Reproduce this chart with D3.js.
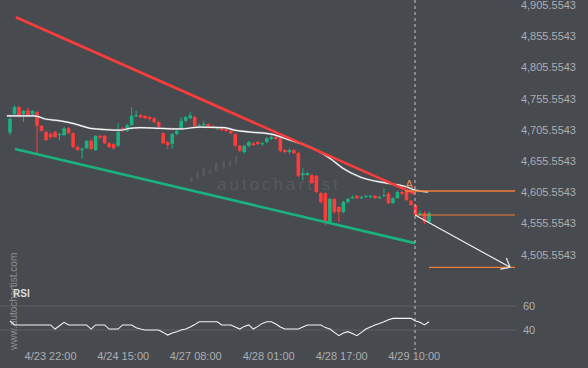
<!DOCTYPE html>
<html><head><meta charset="utf-8">
<script src="https://cdn.jsdelivr.net/npm/d3@7"></script>
<style>html,body{margin:0;padding:0;background:#474a4f;}svg{display:block;}</style>
</head><body>
<svg id="c" width="588" height="368"></svg>
<script>
// ---------- data ----------
const opens = [4699,4729,4740,4729,4735,4729,4732,4710,4700,4697,
4700,4695,4695,4706,4698,4676,4671,4674,4686,4671,
4694,4694,4682,4681,4678,4706,4702,4711,4726,4727,
4726,4724,4722,4716,4698,4684,4681,4697,4705,4718,
4722,4724,4710,4711,4713,4710,4705,4708,4705,4702,
4697,4678,4668,4678,4682,4684,4681,4684,4689,4692,
4690,4671,4668,4671,4666,4631,4631,4631,4630,4602,
4602,4554,4593,4580,4572,4588,4594,4598,4594,4596,
4596,4598,4594,4598,4601,4586,4594,4604,4604,4590,
4583,4567,4570,4556];
const closes = [4721,4740,4724,4734,4726,4734,4710,4702,4687,4692,
4692,4697,4706,4698,4676,4671,4673,4686,4673,4694,
4691,4682,4676,4674,4700,4702,4711,4726,4727,4724,
4722,4721,4716,4708,4682,4679,4697,4702,4718,4724,
4727,4710,4711,4713,4708,4706,4706,4703,4702,4698,
4678,4670,4678,4684,4679,4681,4682,4690,4692,4689,
4670,4668,4671,4666,4630,4634,4634,4618,4604,4588,
4554,4593,4572,4572,4588,4593,4596,4594,4596,4598,
4598,4594,4596,4599,4586,4594,4604,4601,4591,4583,
4567,4570,4556,4570];
const highs = [4723,4743,4742,4735,4739,4735,4734,4711,4702,4699,
4702,4699,4708,4708,4700,4678,4676,4687,4689,4695,
4695,4695,4684,4682,4714,4708,4713,4740,4734,4729,
4727,4726,4724,4718,4700,4686,4698,4706,4724,4726,
4732,4726,4714,4718,4714,4711,4708,4710,4706,4703,
4698,4679,4679,4686,4684,4686,4684,4692,4695,4694,
4692,4673,4674,4673,4668,4642,4636,4633,4631,4604,
4604,4594,4594,4581,4590,4594,4599,4599,4598,4599,
4599,4599,4598,4610,4604,4596,4607,4606,4606,4591,
4585,4575,4573,4573];
const lows = [4695,4727,4723,4716,4724,4727,4665,4700,4686,4689,
4691,4687,4694,4697,4674,4670,4657,4673,4671,4670,
4689,4681,4674,4671,4676,4700,4700,4710,4724,4722,
4721,4718,4714,4706,4681,4673,4673,4695,4703,4716,
4721,4708,4708,4710,4706,4705,4703,4702,4700,4697,
4676,4668,4665,4676,4678,4679,4678,4682,4687,4687,
4668,4666,4665,4665,4628,4623,4630,4617,4602,4585,
4551,4553,4569,4556,4570,4586,4593,4593,4593,4594,
4594,4593,4593,4596,4585,4585,4593,4599,4590,4582,
4566,4566,4553,4554];
const rsi = [47.5,44.2,44.2,44.2,44.2,44.2,44.2,44.2,44.2,44.2,
40.8,43.5,46.4,44.2,44.2,44.2,44.2,44.2,40.8,44.2,
44.2,44.2,40.8,40.8,40.8,44.2,44.2,44.2,41.9,40.8,
40,40,40,40,38,35.8,37.5,38.6,40,40.8,
42.5,44.5,46.9,46.9,46.9,46.9,46.9,44.2,44.2,44.2,
42.5,40.8,43,44.2,40.8,43,45.5,46.9,46.9,45,
42.5,40.8,40.8,40.8,40.8,42.5,44.2,44.2,44.2,44.2,
42,40.8,38,35.3,37.5,38.6,37,35.3,38,40.8,
42.5,44.2,45.5,46.9,48.5,49.7,49.7,49.7,49.7,49.7,
47.5,46.5,44.2,46.9];
const maIdx = [-0.7,5.5,7.8,11.1,14.4,17.8,21.1,24.4,26.6,28.9,33.3,37.7,42.2,47.7,49.9,53.3,57.7,62.2,65.9,68.8,71,73.9,77.7,83.7,88.1,89.9,92.8];
const maVal = [4726,4726,4721,4718,4713,4706,4704,4703,4706,4707,4706,4705,4708,4707,4703,4700,4697,4687,4678,4668,4658,4642,4628,4618,4612,4607,4604];
const resIdx = [1.3, 89.9], resVal = [4884, 4601];
const supIdx = [1.1, 89.9], supVal = [4673, 4522];
const levelA = 4605.5543, levelAStart = 87.7;
const lastPrice = 4567.1, forecastStartIdx = 89.9;
const targetPrice = 4483.3, targetStartIdx = 93, forecastEndIdx = 111;
const nowIdx = 89.9;
const xTickIdx = [8.9, 25.0, 41.1, 57.3, 73.5, 89.6];
const xTickLabels = ["4/23 22:00","4/24 15:00","4/27 08:00","4/28 01:00","4/28 17:00","4/29 10:00"];
const yTicks = [4505.5543,4555.5543,4605.5543,4655.5543,4705.5543,4755.5543,4805.5543,4855.5543,4905.5543];
const rsiTicks = [40, 60];
const logoBars = [[5,0],[8,5],[9,10],[5,15],[9,20],[8,26],[6,31],[8,36]];

// ---------- layout ----------
const W=588,H=368,BG="#474a4f",RED="#ff3c3c",GREEN="#1ab27f",ORANGE="#f47b36",TXT="#acaeb1";
const svg=d3.select("#c");
svg.append("rect").attr("width",W).attr("height",H).attr("fill",BG);
const plotRight=515;
const x=d3.scaleLinear().domain([0,93]).range([10,429]);
const y=d3.scaleLinear().domain([4505.5543,4905.5543]).range([253.4,3.8]);
const yR=d3.scaleLinear().domain([40,60]).range([330,306]);
const font="'Liberation Sans', Arial, sans-serif";

// watermark
const wm=svg.append("g").attr("fill","#55595e");
wm.selectAll("rect").data(logoBars).enter().append("rect")
  .attr("x",d=>190+d[1]*1.25).attr("width",2.6).attr("rx",1.2)
  .attr("y",(d,i)=>182-i*2.6-d[0]).attr("height",d=>d[0]);
wm.append("text").attr("x",217).attr("y",190).attr("font-family",font).attr("font-size",17)
  .attr("letter-spacing",3).text("autochartist");

// vertical site text
svg.append("text").attr("transform","translate(17,350) rotate(-90)")
  .attr("font-family",font).attr("font-size",10).attr("fill","#8d9094").text("www.autochartist.com");

// RSI gridlines
svg.append("g").selectAll("line").data(rsiTicks).enter().append("line")
  .attr("x1",0).attr("x2",517).attr("y1",d=>yR(d)).attr("y2",d=>yR(d))
  .attr("stroke","#5c6065").attr("stroke-width",1);

// candles
const idx=d3.range(opens.length);
const cg=svg.append("g");
cg.selectAll("line").data(idx).enter().append("line")
  .attr("x1",i=>x(i)).attr("x2",i=>x(i)).attr("y1",i=>y(highs[i])).attr("y2",i=>y(lows[i]))
  .attr("stroke",i=>closes[i]>=opens[i]?GREEN:RED).attr("stroke-width",1);
cg.selectAll("rect").data(idx).enter().append("rect")
  .attr("x",i=>x(i)-1.8).attr("width",3.6)
  .attr("y",i=>y(Math.max(opens[i],closes[i])))
  .attr("height",i=>Math.max(1,Math.abs(y(opens[i])-y(closes[i]))))
  .attr("fill",i=>closes[i]>=opens[i]?GREEN:RED);

// moving average
const maLine=d3.line().x(d=>x(d[0])).y(d=>y(d[1])).curve(d3.curveMonotoneX);
const maPts=maIdx.map((d,i)=>[d,maVal[i]]);
svg.append("path").attr("d",maLine(maPts)).attr("fill","none").attr("stroke","#7e8185").attr("stroke-width",2.1);
svg.append("path").attr("d",maLine(maPts)).attr("fill","none").attr("stroke","#f7f7f7").attr("stroke-width",1.2);

// trend lines
const lin=d3.line().x(d=>x(d[0])).y(d=>y(d[1]));
svg.append("path").attr("d",lin(supIdx.map((d,i)=>[d,supVal[i]]))).attr("stroke",GREEN).attr("stroke-width",2.6).attr("fill","none");
svg.append("path").attr("d",lin(resIdx.map((d,i)=>[d,resVal[i]]))).attr("stroke",RED).attr("stroke-width",2.6).attr("fill","none");

// levels
svg.append("line").attr("x1",x(levelAStart)).attr("x2",plotRight).attr("y1",y(levelA)).attr("y2",y(levelA))
  .attr("stroke",ORANGE).attr("stroke-width",1.6);
svg.append("text").attr("x",x(levelAStart)+4).attr("y",y(levelA)-3).attr("text-anchor","middle")
  .attr("font-family",font).attr("font-size",11).attr("fill","#e98a50").text("A");
svg.append("line").attr("x1",x(forecastStartIdx)).attr("x2",plotRight).attr("y1",y(lastPrice)).attr("y2",y(lastPrice))
  .attr("stroke",ORANGE).attr("stroke-width",1.1);
svg.append("line").attr("x1",x(targetStartIdx)).attr("x2",plotRight).attr("y1",y(targetPrice)).attr("y2",y(targetPrice))
  .attr("stroke",ORANGE).attr("stroke-width",1.2);

// forecast arrow
const ax0=x(forecastStartIdx),ay0=y(lastPrice),ax1=x(forecastEndIdx),ay1=y(targetPrice);
const ang=Math.atan2(ay1-ay0,ax1-ax0)+Math.PI, L=10, sp=0.68;
svg.append("path").attr("d",`M${ax0},${ay0}L${ax1},${ay1}M${ax1+L*Math.cos(ang-sp)},${ay1+L*Math.sin(ang-sp)}L${ax1},${ay1}L${ax1+L*Math.cos(ang+sp)},${ay1+L*Math.sin(ang+sp)}`)
  .attr("fill","none").attr("stroke","#ececec").attr("stroke-width",1.2);

// now line
svg.append("line").attr("x1",x(nowIdx)).attr("x2",x(nowIdx)).attr("y1",0).attr("y2",350)
  .attr("stroke","#c4c6c8").attr("stroke-width",1).attr("stroke-dasharray","3,3");

// RSI line
svg.append("path").attr("d",d3.line().x((d,i)=>x(i)).y(d=>yR(d))(rsi))
  .attr("fill","none").attr("stroke","#f4f4f4").attr("stroke-width",1.1);
svg.append("text").attr("x",13).attr("y",297).attr("font-family",font).attr("font-size",10)
  .attr("font-weight","bold").attr("fill","#dcdcdc").text("RSI");

// axes
const ya=svg.append("g").attr("transform","translate(576,0)")
  .call(d3.axisRight(y).tickValues(yTicks).tickSize(0).tickFormat(d3.format(",.4f")));
ya.select(".domain").remove();
ya.selectAll("text").attr("x",0).attr("dy","0.42em").attr("text-anchor","end").attr("fill",TXT).attr("font-family",font).attr("font-size",11);

const ra=svg.append("g").attr("transform","translate(520,0)")
  .call(d3.axisRight(yR).tickValues(rsiTicks).tickSize(0).tickPadding(3));
ra.select(".domain").remove();
ra.selectAll("text").attr("fill",TXT).attr("font-family",font).attr("font-size",11);

const xa=svg.append("g").attr("transform","translate(0,349.7)")
  .call(d3.axisBottom(x).tickValues(xTickIdx).tickSize(0).tickPadding(3).tickFormat((d,i)=>xTickLabels[i]));
xa.select(".domain").remove();
xa.selectAll("text").attr("fill",TXT).attr("font-family",font).attr("font-size",11);
</script>
</body></html>
